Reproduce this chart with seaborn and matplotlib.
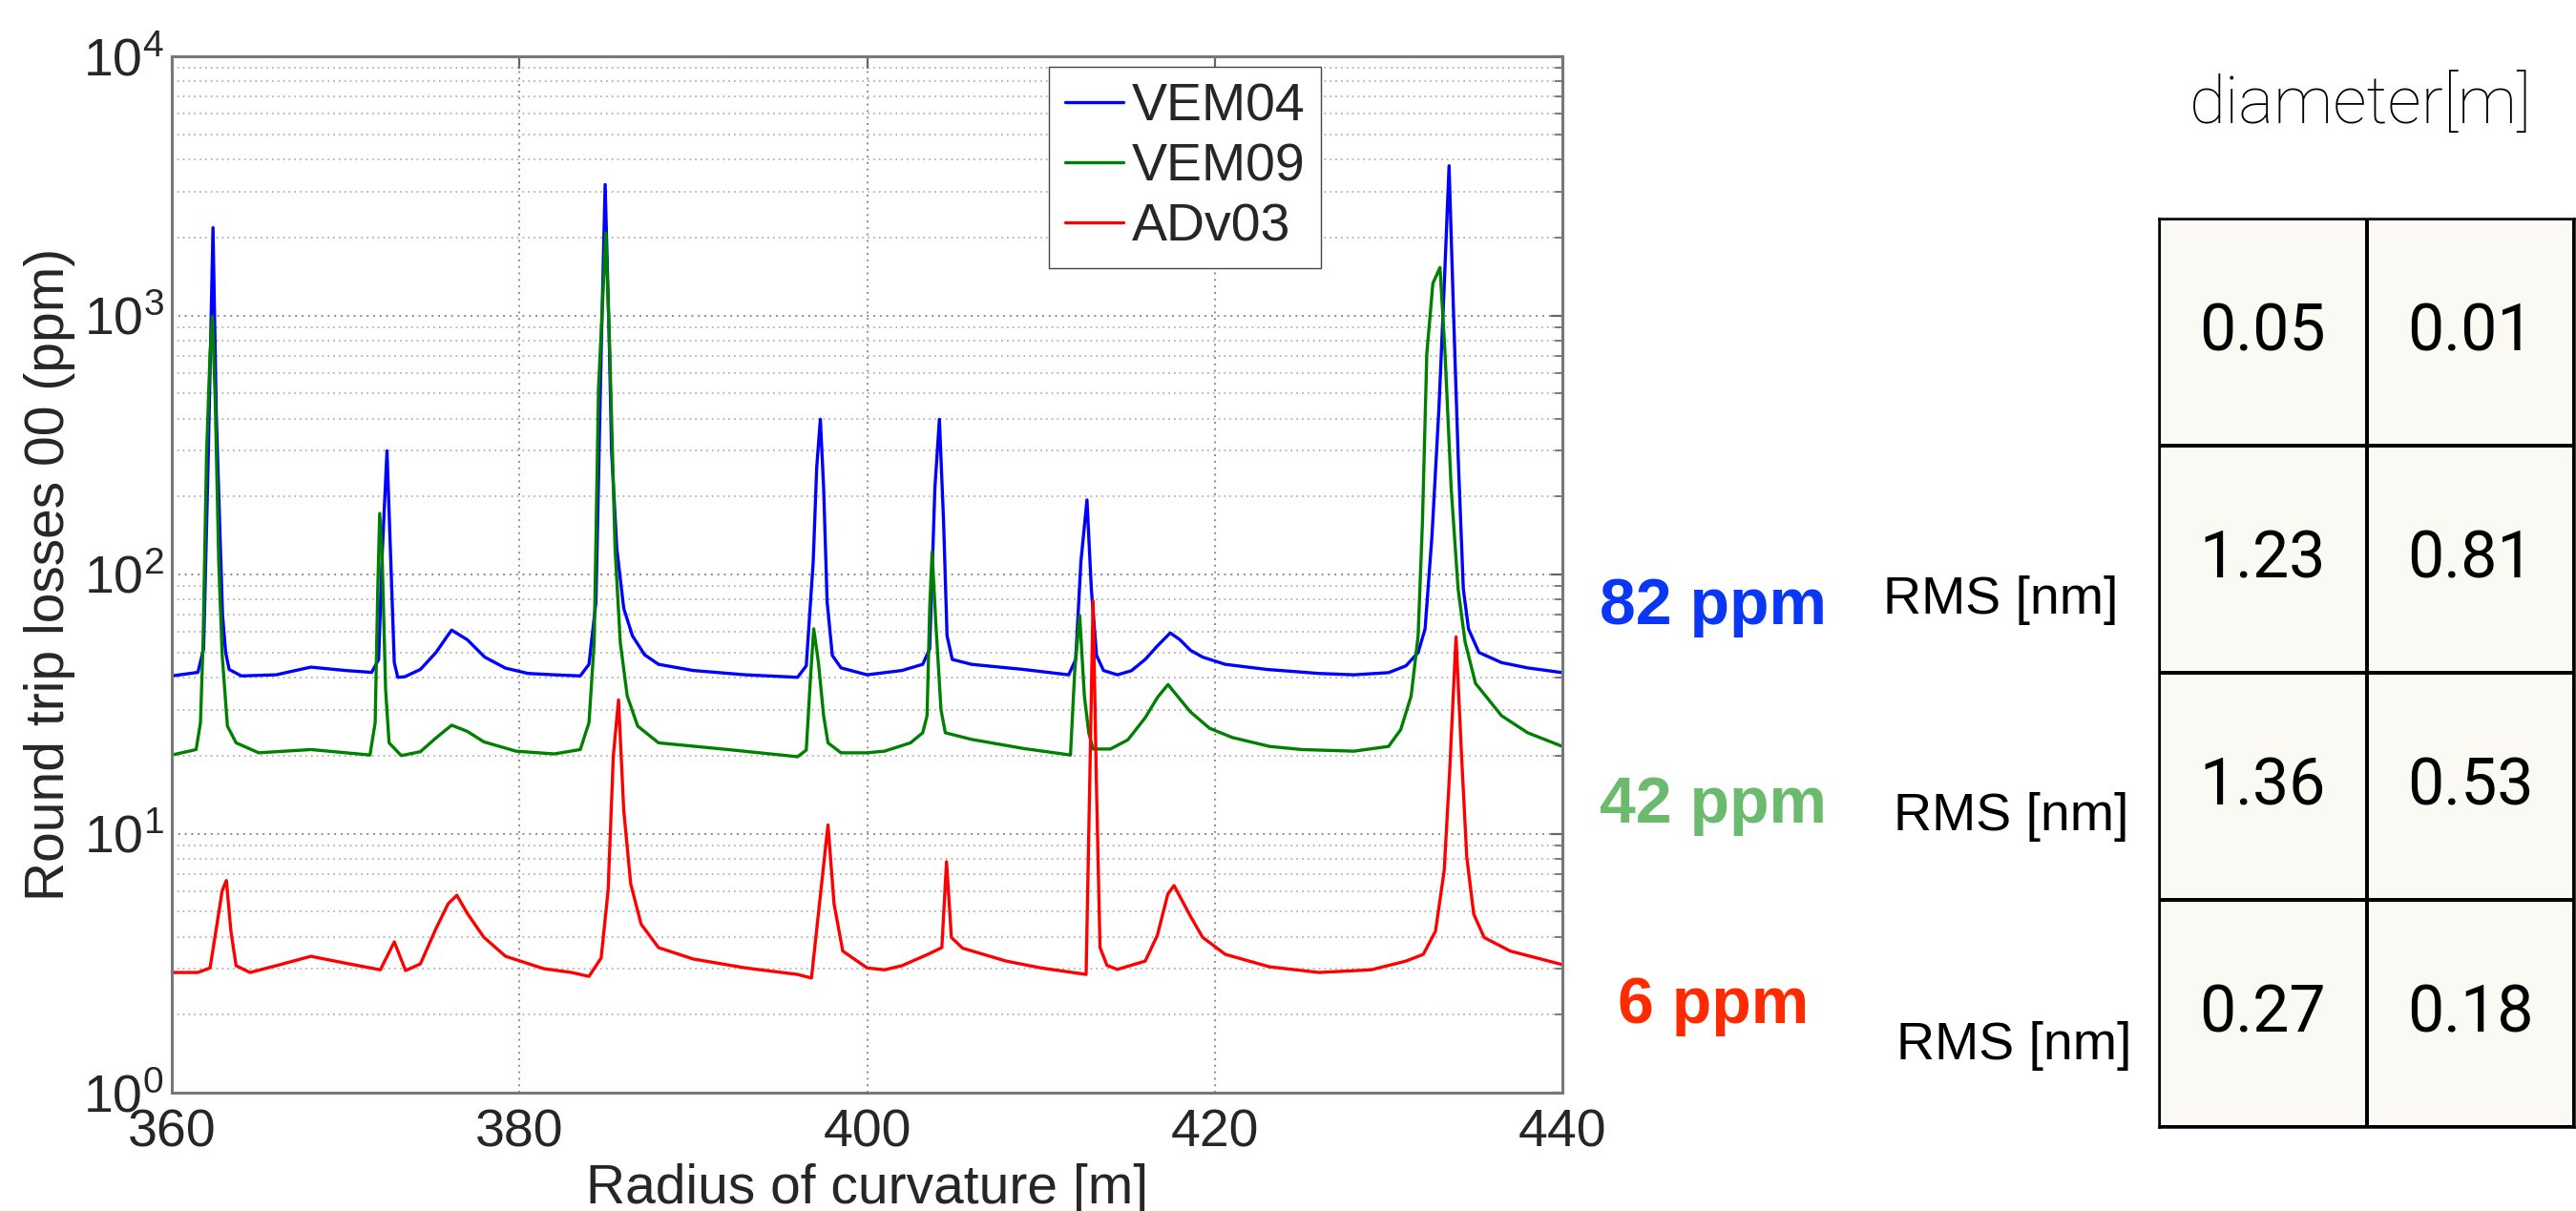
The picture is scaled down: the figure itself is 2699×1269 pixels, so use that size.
import numpy as np
import pandas as pd
import matplotlib
matplotlib.use("Agg")
import matplotlib.pyplot as plt
import seaborn as sns
from matplotlib.colors import ListedColormap
from matplotlib.ticker import LogLocator, NullLocator

# ---- round-trip losses of the 00 mode vs. radius of curvature ----
vem04_r = [360.0, 361.5, 361.83, 362.1, 362.37, 362.56, 362.75, 362.92, 363.1, 363.3,
           364.0, 366.0, 368.0, 370.0, 371.5, 371.9, 372.1, 372.38, 372.6, 372.8,
           373.0, 373.4, 374.3, 375.2, 375.9, 376.1, 377.0, 378.0, 379.2, 380.5,
           382.0, 383.5, 384.0, 384.4, 384.7, 384.93, 385.15, 385.3, 385.6, 386.0,
           386.5, 387.2, 388.0, 390.0, 393.0, 396.0, 396.5, 396.9, 397.1, 397.31,
           397.5, 397.7, 398.0, 398.5, 400.0,
           402.0, 403.2, 403.6, 403.9, 404.16, 404.4, 404.6, 404.9, 406.0, 409.0,
           411.6, 412.0, 412.3, 412.65, 412.9, 413.2, 413.6, 414.4, 415.2, 416.0,
           416.7, 417.44, 418.0, 418.6, 419.3, 420.6,
           423.0, 426.0, 428.0, 430.0, 431.0, 431.7, 432.1, 432.5, 432.9, 433.2,
           433.48, 433.75, 434.0, 434.3, 434.6, 435.2, 436.5, 438.0, 440.0]
vem04_loss = [40.6, 41.9, 51.6, 290, 2180, 414, 160, 69.5, 50, 43,
              40.6, 41, 43.9, 42.6, 41.9, 47, 118, 300, 112, 45.7,
              40.1, 40.3, 43, 50, 58.5, 61, 56, 48, 43.5, 41.5,
              41, 40.6, 45, 78, 712, 3200, 900, 300, 126, 74,
              58, 49, 45, 42.6, 41, 40.1, 44.4, 112, 258, 397,
              216, 78.5, 48.7, 43.6, 41,
              42.6, 45, 51.6, 216, 397, 160, 58, 47, 45, 43,
              41, 47, 112, 194, 88, 48.7, 42.6, 41, 42.5, 47,
              53, 59.5, 56, 51, 48, 45,
              43, 41.5, 41, 41.8, 44.4, 50, 61.6, 142, 442, 1290,
              3780, 960, 290, 88, 61.6, 50, 45.7, 43.6, 41.8]

vem09_r = [360.0, 361.4, 361.65, 361.8, 362.0, 362.2, 362.34, 362.5, 362.7, 362.9,
           363.2, 363.7, 365.0, 368.0, 371.4, 371.7, 371.85, 371.96, 372.1, 372.3,
           372.5, 373.2, 374.3, 375.2, 376.1, 377.0, 377.95, 379.8,
           382.0, 383.5, 384.0, 384.3, 384.55, 384.97, 385.2, 385.5, 385.8, 386.2,
           386.8, 388.0, 392.0, 396.0, 396.5, 396.75, 396.93, 397.2, 397.5, 397.75,
           398.5, 400.0,
           401.0, 402.5, 403.2, 403.45, 403.6, 403.74, 403.95, 404.25, 404.5, 406.0,
           409.0, 411.7, 411.95, 412.23, 412.5, 412.75, 413.0, 414.0, 415.0, 416.0,
           416.7, 417.31, 418.0, 418.6, 419.7, 421.0, 423.15,
           425.0, 428.0, 430.0, 430.7, 431.3, 431.7, 431.95, 432.2, 432.55,
           432.96, 433.25, 433.6, 434.0, 434.4, 435.0, 436.5, 438.0, 440.0]
vem09_loss = [20.1, 21.1, 26.8, 54.7, 291, 712, 988, 468, 112, 48.7,
              26, 22.4, 20.5, 21.1, 20.1, 26.8, 88, 172, 118, 36,
              22.4, 20.0, 20.7, 23.4, 26.2, 24.8, 22.6, 20.8,
              20.3, 21.1, 26.8, 54.7, 528, 2080, 712, 126, 54.7, 34,
              26, 22.4, 21.1, 19.8, 21, 40.6, 61.7, 45.7, 28.5, 22.4,
              20.5, 20.5,
              20.8, 22.4, 24.5, 28.5, 73.7, 122, 65.6, 30.1, 24.5, 23.1,
              21.3, 20.1, 43, 69.5, 34, 24.5, 21.2, 21.2, 23, 28,
              33.5, 37.6, 33, 29.5, 25.5, 23.5, 21.7,
              21.1, 20.8, 21.7, 25.2, 34, 58, 160, 712, 1330,
              1530, 712, 216, 88, 55, 38, 28.5, 24.5, 21.7]

adv03_r = [360.0, 361.5, 362.2, 362.6, 362.9, 363.14, 363.4, 363.7, 364.5, 366.0,
           368.0, 370.0, 372.0, 372.8, 373.45, 374.3, 375.2, 375.9, 376.4, 377.0,
           377.95, 379.2, 381.4,
           383.0, 384.0, 384.7, 385.1, 385.4, 385.7, 386.0, 386.4, 387.0,
           388.0, 390.0, 393.0, 396.0, 396.8, 397.3, 397.75, 398.1, 398.6, 400.0,
           401.0, 402.0, 403.5, 404.3, 404.57, 404.85, 405.5, 408.0, 410.0, 412.6,
           412.8, 413.0, 413.2, 413.4, 413.8, 414.4, 416.0, 416.7, 417.3, 417.66,
           418.6, 419.3, 420.6, 423.15,
           426.0, 429.0, 431.0, 432.0, 432.7, 433.2, 433.5, 433.88,
           434.2, 434.5, 434.9, 435.5, 437.0, 440.0]
adv03_loss = [2.91, 2.91, 3.03, 4.47, 6.02, 6.59, 4.2, 3.09, 2.91, 3.09,
              3.36, 3.16, 2.98, 3.82, 2.96, 3.14, 4.3, 5.36, 5.78, 4.92,
              3.98, 3.36, 3.01,
              2.91, 2.81, 3.31, 6.02, 19.9, 32.8, 12.3, 6.4, 4.47,
              3.63, 3.28, 3.03, 2.86, 2.77, 5.67, 10.8, 5.35, 3.52, 3.03,
              2.98, 3.09, 3.42, 3.63, 7.78, 3.97, 3.61, 3.22, 3.03, 2.86,
              14.7, 79.2, 14.7, 3.63, 3.1, 2.99, 3.22, 4.05, 5.84, 6.3,
              4.8, 3.98, 3.42, 3.06,
              2.91, 2.98, 3.22, 3.42, 4.2, 7.2, 16.6, 57.4,
              19.9, 8.1, 4.89, 3.97, 3.52, 3.12]

mirror_names = ["VEM04", "VEM09", "ADv03"]
mirror_colors = ["#0000FF", "#008000", "#FF0000"]
x_ticks = [360, 380, 400, 420, 440]

# ---- side annotations and mirror table ----
ppm_labels = ["82 ppm", "42 ppm", "6 ppm"]
ppm_colors = ["#0A36F5", "#6BBA6E", "#FF2A00"]
rms_label = "RMS [nm]"
table_title = "diameter[m]"
table_values = [[0.05, 0.01],
                [1.23, 0.81],
                [1.36, 0.53],
                [0.27, 0.18]]

sns.set_style("white")
plt.rcParams["font.family"] = ["Liberation Sans", "DejaVu Sans"]
plt.rcParams["mathtext.default"] = "regular"

W, H = 2699, 1269
fig = plt.figure(figsize=(W / 100, H / 100), dpi=100)
fig.patch.set_facecolor("white")


def fx(px):
    return px / W


def fy(py):
    return 1 - py / H


ax = fig.add_axes([fx(180), fy(1145), fx(1637 - 180), (1145 - 59) / H])
ax.set_yscale("log")

df = pd.concat([
    pd.DataFrame({"radius": r, "loss": l, "mirror": n})
    for r, l, n in zip([vem04_r, vem09_r, adv03_r],
                       [vem04_loss, vem09_loss, adv03_loss], mirror_names)
], ignore_index=True)

sns.lineplot(data=df, x="radius", y="loss", hue="mirror", hue_order=mirror_names,
             palette=dict(zip(mirror_names, mirror_colors)), estimator=None,
             linewidth=2.4, ax=ax)

ax.set_xlim(360, 440)
ax.set_ylim(1, 1e4)
ax.set_xticks(x_ticks)
ax.xaxis.set_minor_locator(NullLocator())
ax.yaxis.set_major_locator(LogLocator(base=10, numticks=10))
ax.yaxis.set_minor_locator(LogLocator(base=10, subs=np.arange(2, 10), numticks=20))

ax.grid(True, which="major", axis="both", linestyle=(0, (1, 2.5)),
        color="#8c8c8c", linewidth=1.4)
ax.grid(True, which="minor", axis="y", linestyle=(0, (1, 2.5)),
        color="#a8a8a8", linewidth=1.2)
ax.set_axisbelow(True)

for s in ax.spines.values():
    s.set_visible(True)
    s.set_color("#777777")
    s.set_linewidth(2.2)

ax.tick_params(which="both", direction="in", top=True, right=True,
               color="#666666", labelsize=40)
ax.tick_params(which="major", length=9, width=1.6)
ax.tick_params(which="minor", length=6, width=1.2)
ax.tick_params(axis="x", pad=12)
ax.tick_params(axis="y", pad=6)

ax.set_xlabel("Radius of curvature [m]", fontsize=41, labelpad=4)
ax.set_ylabel("Round trip losses 00 (ppm)", fontsize=41, labelpad=6)

handles, labels = ax.get_legend_handles_labels()
ax.legend(handles, labels, loc="upper left", bbox_to_anchor=(0.631, 0.990),
          frameon=True, fancybox=False, edgecolor="#444444", framealpha=1,
          fontsize=40, handlelength=1.1, handletextpad=0.15,
          labelspacing=0.2, borderpad=0.3, borderaxespad=0)

# loss summary and roughness labels
ppm_pos = [(1676, 654), (1676, 862), (1695, 1072)]
for txt, col, (px, py) in zip(ppm_labels, ppm_colors, ppm_pos):
    fig.text(fx(px), fy(py), txt, color=col, fontsize=49, fontweight="bold",
             ha="left", va="baseline")

rms_pos = [(1973, 643), (1984, 870), (1987, 1110)]
for px, py in rms_pos:
    fig.text(fx(px), fy(py), rms_label, color="black", fontsize=40,
             ha="left", va="baseline")

fig.text(fx(2294), fy(129), table_title, color="black", fontsize=50,
         fontfamily=["Roboto", "DejaVu Sans"], fontweight="light",
         ha="left", va="baseline")

tab_ax = fig.add_axes([fx(2262), fy(1181), fx(2697 - 2262), (1181 - 229) / H])
sns.heatmap(np.array(table_values), ax=tab_ax, cmap=ListedColormap(["#FAF9F4"]),
            cbar=False, annot=True, fmt=".2f", linewidths=1.6, linecolor="black",
            xticklabels=False, yticklabels=False,
            annot_kws={"fontsize": 49, "color": "black",
                       "fontfamily": ["Roboto", "DejaVu Sans"],
                       "fontweight": "normal"})
for s in tab_ax.spines.values():
    s.set_visible(True)
    s.set_color("black")
    s.set_linewidth(1.8)

fig.savefig("out.png", dpi=100, facecolor="white")
